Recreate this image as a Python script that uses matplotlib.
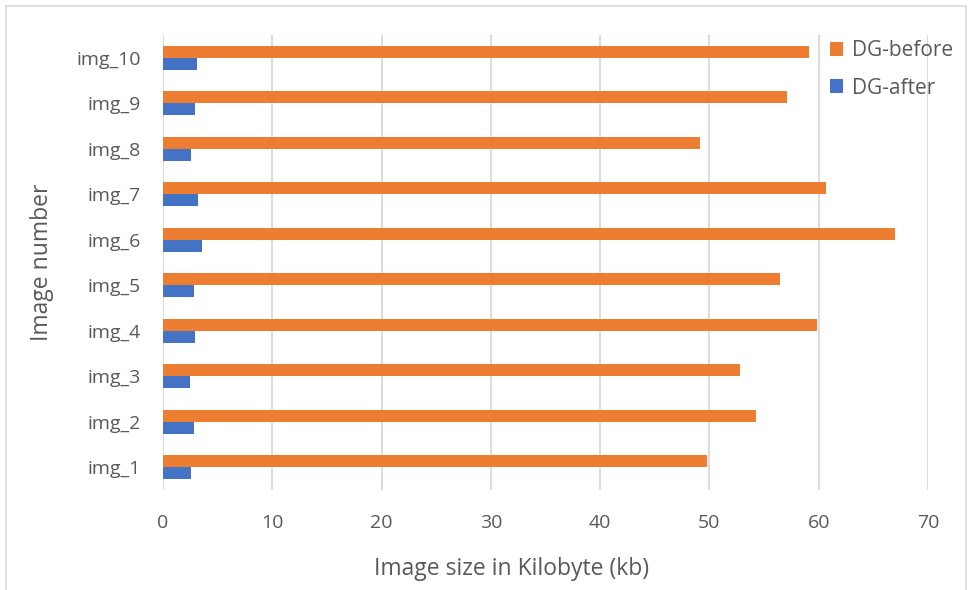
import matplotlib.pyplot as plt
from matplotlib.patches import Rectangle
import numpy as np

images = ['img_1', 'img_2', 'img_3', 'img_4', 'img_5',
          'img_6', 'img_7', 'img_8', 'img_9', 'img_10']
dg_before = [49.8, 54.3, 52.8, 59.8, 56.5, 67.0, 60.7, 49.1, 57.1, 59.1]
dg_after = [2.6, 2.8, 2.5, 2.9, 2.8, 3.6, 3.2, 2.6, 2.9, 3.1]

plt.rcParams['font.family'] = ['Open Sans', 'DejaVu Sans']
grey = '#595959'

fig = plt.figure(figsize=(9.72, 5.90), dpi=100)
ax = fig.add_axes([0.1677, 0.1695, 0.787, 0.7712])

y = np.arange(len(images))
h = 0.265
ax.barh(y + h / 2, dg_before, height=h, color='#ED7D31', label='DG-before', zorder=3)
ax.barh(y - h / 2, dg_after, height=h, color='#4472C4', label='DG-after', zorder=3)

ax.set_xlim(0, 70)
ax.set_ylim(-0.5, 9.5)
ax.set_xticks(np.arange(0, 71, 10))
ax.set_yticks(y)
ax.set_yticklabels(images)
ax.tick_params(axis='both', length=0, labelsize=14, colors=grey)
ax.tick_params(axis='x', pad=17)
ax.tick_params(axis='y', pad=16)
ax.grid(axis='x', color='#D9D9D9', linewidth=1.3, zorder=0)
for s in ['top', 'right', 'bottom', 'left']:
    ax.spines[s].set_visible(False)

ax.set_xlabel('Image size in Kilobyte (kb)', fontsize=16.5, color=grey, labelpad=12)
ax.xaxis.set_label_coords(0.455, -0.148)
ax.set_ylabel('Image number', fontsize=16.5, color=grey, labelpad=16)

leg = ax.legend(loc='upper right', bbox_to_anchor=(1.057, 1.03), frameon=False,
                fontsize=15, handlelength=0.65, handleheight=0.65,
                handletextpad=0.4, labelspacing=0.8)
for t in leg.get_texts():
    t.set_color(grey)

# thin frame around the chart area
fig.patches.append(Rectangle((6 / 972, -0.01), 960 / 972, 1 - 6 / 590 + 0.01,
                             transform=fig.transFigure, fill=False,
                             edgecolor='#D9D9D9', linewidth=1.2))

fig.savefig('out.png', dpi=100)
